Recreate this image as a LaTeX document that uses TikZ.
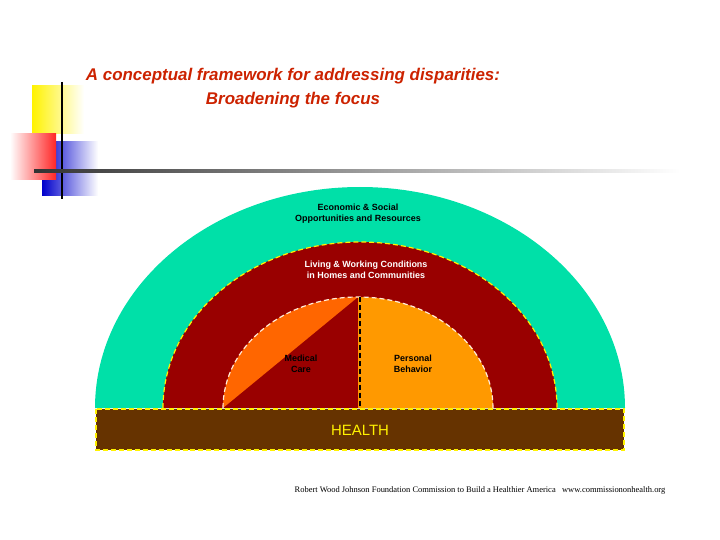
\documentclass[tikz,border=0pt]{standalone}
\usepackage{fontspec}
\setmainfont{Liberation Sans}
\newfontfamily\footfont{Liberation Serif}
\usetikzlibrary{positioning}
\definecolor{bandgreen}{HTML}{00E0A8}
\definecolor{bandred}{HTML}{990000}
\definecolor{caredark}{HTML}{FF6600}
\definecolor{carelight}{HTML}{FF9900}
\definecolor{healthbrown}{HTML}{663300}
\definecolor{titlered}{HTML}{CC2200}
\tikzset{
  lbl/.style={font=\bfseries\fontsize{9}{11}\selectfont, align=center},
  bandline/.style={dash pattern=on 5pt off 3pt, line width=1.6pt}
}
\begin{document}
\begin{tikzpicture}[x=1bp,y=-1bp]
\useasboundingbox (0,0) rectangle (720,540);

% corner decoration
\shade[left color=yellow!90!orange, right color=white] (32,86) rectangle (84,134);
\shade[left color=blue!80!black, right color=white] (42,142) rectangle (98,196);
\shade[right color=red!85, left color=white] (10,134) rectangle (56,180);
\draw[line width=1.5pt] (62,82) -- (62,199);
\shade[left color=black!80, right color=white] (34,169.5) rectangle (680,172.5);

% title
\node[font=\bfseries\itshape\fontsize{17}{24}\selectfont, text=titlered, align=center] (title) at (293,88)
  {A conceptual framework for addressing disparities:\\Broadening the focus};

% bands
\fill[bandgreen] (95,408) arc[start angle=180, end angle=360, x radius=265, y radius=221] -- cycle;
\fill[bandred] (163,408) arc[start angle=180, end angle=360, x radius=197, y radius=166] -- cycle;
\draw[bandline, yellow, line width=1.2pt] (163,408) arc[start angle=180, end angle=360, x radius=197, y radius=166];
\fill[caredark] (223,408) arc[start angle=180, end angle=270, x radius=135, y radius=111] -- cycle;
\fill[carelight] (358,297) arc[start angle=270, end angle=360, x radius=135, y radius=111] -- (358,408) -- cycle;
\draw[bandline, white!85!orange, line width=1.2pt] (223,408) arc[start angle=180, end angle=360, x radius=135, y radius=111];
\draw[bandline, black] (360,297) -- (360,408);

% base
\draw[fill=healthbrown, bandline, draw=yellow] (96,409) rectangle (624,450);
\node[text=yellow, font=\fontsize{15}{18}\selectfont] (health) at (360,430) {HEALTH};

% labels
\node[lbl] (econ) at (358,214) {Economic \& Social\\Opportunities and Resources};
\node[lbl, text=white] (living) at (366,270) {Living \& Working Conditions\\in Homes and Communities};
\node[lbl] (medical) at (301,364) {Medical\\Care};
\node[lbl] (personal) at (413,364) {Personal\\Behavior};

\node[font=\footfont\fontsize{8.5}{10}\selectfont] (source) at (480,490)
  {Robert Wood Johnson Foundation Commission to Build a Healthier America \ \ www.commissiononhealth.org};
\end{tikzpicture}
\end{document}
